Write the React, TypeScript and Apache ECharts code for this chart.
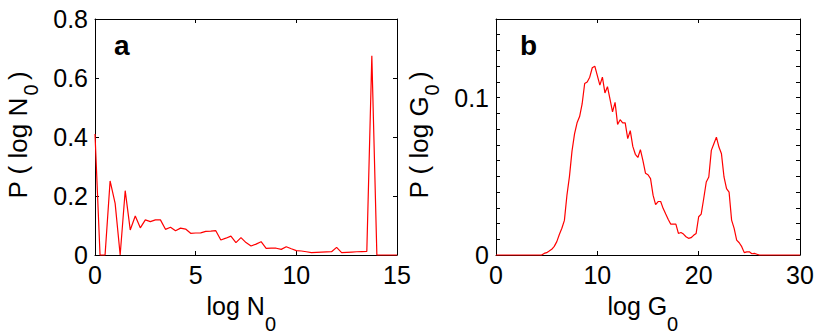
import React, { useEffect, useRef } from "react";
import * as echarts from "echarts";

// Panel a: P(log N0), histogram bins starting at 0 with width 0.25
const N0_BIN_START = 0;
const N0_BIN_STEP = 0.25;
const pLogN0 = [
  0.41, 0, 0, 0.251, 0.175, 0, 0.218, 0.085, 0.132, 0.092,
  0.119, 0.113, 0.119, 0.119, 0.087, 0.094, 0.082, 0.091, 0.088, 0.0735,
  0.0745, 0.075, 0.08, 0.081, 0.0825, 0.051, 0.057, 0.064, 0.042, 0.059,
  0.042, 0.0305, 0.037, 0.045, 0.0226, 0.023, 0.023, 0.019, 0.028, 0.021,
  0.0147, 0.0136, 0.011, 0.008, 0.009, 0.01, 0.0105, 0.011, 0.026, 0.008,
  0.009, 0.01, 0.011, 0.0115, 0.012, 0.675, 0, 0, 0, 0,
  0,
];

// Panel b: P(log G0), histogram bins starting at 0 with width 0.25
const G0_BIN_START = 0;
const G0_BIN_STEP = 0.25;
const pLogG0 = [
  0, 0, 0, 0, 0, 0, 0, 0, 0, 0,
  0, 0, 0, 0, 0, 0, 0, 0, 0, 0.001,
  0.0015, 0.0025, 0.0036, 0.0055, 0.0085, 0.013, 0.017, 0.022, 0.038, 0.05,
  0.066, 0.077, 0.084, 0.088, 0.096, 0.109, 0.11, 0.113, 0.119, 0.12,
  0.114, 0.108, 0.113, 0.103, 0.107, 0.099, 0.091, 0.097, 0.083, 0.086,
  0.084, 0.084, 0.074, 0.079, 0.069, 0.064, 0.062, 0.067, 0.06, 0.052,
  0.051, 0.0485, 0.038, 0.032, 0.034, 0.034, 0.0295, 0.026, 0.0226, 0.0196,
  0.0196, 0.0196, 0.0137, 0.0143, 0.0133, 0.0116, 0.0106, 0.011, 0.0125, 0.0137,
  0.0243, 0.026, 0.0359, 0.0464, 0.0496, 0.0665, 0.0707, 0.0749, 0.0686, 0.0643,
  0.0496, 0.0422, 0.04, 0.0222, 0.0169, 0.0095, 0.0078, 0.0053, 0.0015, 0.002,
  0.002, 0.0008, 0.001, 0.0005, 0, 0, 0, 0, 0, 0,
  0, 0, 0, 0, 0, 0, 0, 0, 0, 0,
  0,
];

const N0_TICKS = { min: 0, max: 15, interval: 5 };
const N0_YTICKS = { min: 0, max: 0.8, interval: 0.2 };
const G0_TICKS = { min: 0, max: 30, interval: 10 };
const G0_YTICKS = { min: 0, max: 0.15, interval: 0.01 };
const G0_YLABELS = [0, 0.1];

const FONT = "'Liberation Sans', Arial, Helvetica, sans-serif";

export default function App() {
  const ref = useRef<HTMLDivElement>(null);

  useEffect(() => {
    if (!ref.current) return;
    const chart = echarts.init(ref.current, undefined, { renderer: "svg" });

    const n0Data = pLogN0.map((v, i) => [N0_BIN_START + i * N0_BIN_STEP, v]);
    const g0Data = pLogG0.map((v, i) => [G0_BIN_START + i * G0_BIN_STEP, v]);

    const axisLine = { show: true, onZero: false, lineStyle: { color: "#000", width: 1 } };
    const axisTick = { show: true, inside: true, length: 4, lineStyle: { color: "#000", width: 1 } };
    const label = { color: "#000", fontSize: 25, fontFamily: FONT };

    const xAx = (grid: number, t: any, pos: string, showLabel: boolean) => ({
      type: "value",
      gridIndex: grid,
      position: pos,
      min: t.min,
      max: t.max,
      interval: t.interval,
      axisLine,
      axisTick,
      splitLine: { show: false },
      axisLabel: showLabel ? { ...label, margin: 7 } : { show: false },
    });
    const yAx = (grid: number, t: any, pos: string, lab: any) => ({
      type: "value",
      gridIndex: grid,
      position: pos,
      min: t.min,
      max: t.max,
      interval: t.interval,
      axisLine,
      axisTick,
      splitLine: { show: false },
      axisLabel: lab,
    });

    const txt = (x: number, y: number, text: string, size: number, extra: any = {}) => ({
      type: "text",
      x,
      y,
      silent: true,
      ...extra,
      style: {
        text,
        fill: "#000",
        font: `${extra.bold ? "bold " : ""}${size}px ${FONT}`,
        textAlign: "left",
        textVerticalAlign: "middle",
      },
    });
    const rot = { rotation: Math.PI / 2 };

    chart.setOption({
      animation: false,
      backgroundColor: "#fff",
      grid: [
        { left: 95, top: 19, width: 302, height: 236 },
        { left: 496, top: 19, width: 304, height: 236 },
      ],
      xAxis: [
        xAx(0, N0_TICKS, "bottom", true),
        xAx(0, N0_TICKS, "top", false),
        xAx(1, G0_TICKS, "bottom", true),
        xAx(1, G0_TICKS, "top", false),
      ],
      yAxis: [
        yAx(0, N0_YTICKS, "left", { ...label, margin: 7 }),
        yAx(0, N0_YTICKS, "right", { show: false }),
        yAx(1, G0_YTICKS, "left", {
          ...label,
          margin: 7,
          formatter: (v: number) => {
            const hit = G0_YLABELS.find((l) => Math.abs(l - v) < 1e-6);
            return hit === undefined ? "" : String(hit);
          },
        }),
        yAx(1, G0_YTICKS, "right", { show: false }),
      ],
      series: [
        {
          type: "line",
          xAxisIndex: 0,
          yAxisIndex: 0,
          data: n0Data,
          showSymbol: false,
          clip: false,
          silent: true,
          lineStyle: { color: "#ff0000", width: 1.2 },
          itemStyle: { color: "#ff0000" },
          z: 5,
        },
        {
          type: "line",
          xAxisIndex: 2,
          yAxisIndex: 2,
          data: g0Data,
          showSymbol: false,
          clip: false,
          silent: true,
          lineStyle: { color: "#ff0000", width: 1.2 },
          itemStyle: { color: "#ff0000" },
          z: 5,
        },
      ],
      graphic: [
        txt(114, 45, "a", 28, { bold: true }),
        txt(520, 45, "b", 28, { bold: true }),
        txt(206.5, 306, "log N", 25),
        txt(265, 323.5, "0", 20),
        txt(607.5, 306, "log G", 25),
        txt(667, 323.5, "0", 20),
        txt(18, 198.5, "P ( log N", 26, rot),
        txt(31, 95.5, "0", 20, rot),
        txt(18, 80, ")", 26, rot),
        txt(419, 198.5, "P ( log G", 26, rot),
        txt(432, 95.5, "0", 20, rot),
        txt(419, 80, ")", 26, rot),
      ],
    });

    return () => chart.dispose();
  }, []);

  return (
    <div
      ref={ref}
      style={{ position: "fixed", left: 0, top: 0, width: 822, height: 335 }}
    />
  );
}
